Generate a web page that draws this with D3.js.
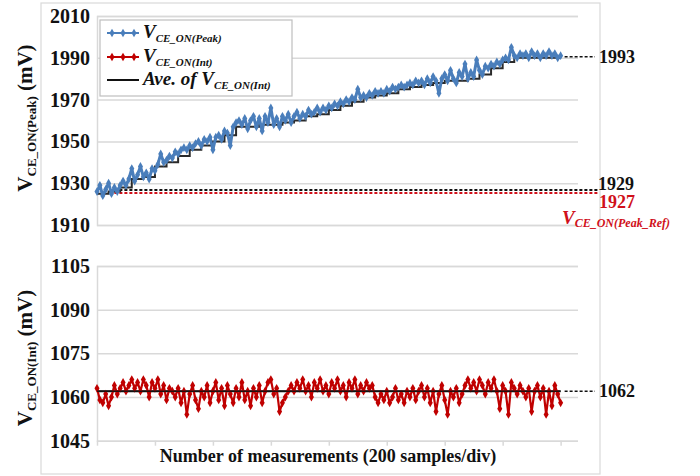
<!DOCTYPE html>
<html>
<head>
<meta charset="utf-8">
<script src="https://cdn.jsdelivr.net/npm/d3@7"></script>
<style>
  body { margin: 0; background: #fff; }
  svg text { font-family: "Liberation Serif", "Times New Roman", "DejaVu Serif", serif; font-weight: bold; }
</style>
</head>
<body>
<div id="chart"></div>
<script>
const WIDTH = 700;
const HEIGHT = 476;
const SERIF = "'Liberation Serif', 'Times New Roman', 'DejaVu Serif', serif";

// one value every SAMPLE_STEP measurements
const SAMPLE_STEP = 10;
const FLOOR_STEP = 40;
const X_MAX = 1660;

const xTicks = [0, 200, 400, 600, 800, 1000, 1200, 1400, 1600];
const topTicks = [1910, 1930, 1950, 1970, 1990, 2010];
const bottomTicks = [1045, 1060, 1075, 1090, 1105];

// V_CE_ON(Peak) in mV
const peakValues = [
  1926, 1929, 1924, 1927, 1930, 1925, 1928, 1926, 1929, 1931,
  1929, 1932, 1937, 1931, 1934, 1938, 1933, 1935, 1932, 1937,
  1936, 1939, 1944, 1940, 1941, 1943, 1942, 1945, 1944, 1946,
  1947, 1946, 1948, 1947, 1949, 1950, 1948, 1951, 1950, 1952,
  1946, 1952, 1953, 1951, 1955, 1954, 1948, 1957, 1959, 1960,
  1958, 1961, 1956, 1960, 1962, 1957, 1961, 1955, 1962, 1959,
  1966, 1958, 1961, 1957, 1962, 1960, 1963, 1959, 1962, 1964,
  1961, 1963, 1962, 1965, 1963, 1964, 1966, 1964, 1966, 1965,
  1967, 1966, 1968, 1967, 1969, 1968, 1970, 1969, 1971, 1970,
  1975, 1971, 1972, 1971, 1973, 1972, 1974, 1973, 1974, 1973,
  1975, 1974, 1976, 1975, 1976, 1977, 1976, 1977, 1978, 1977,
  1979, 1978, 1979, 1977, 1980, 1978, 1981, 1979, 1973, 1980,
  1982, 1979, 1984, 1980, 1978, 1983, 1981, 1987, 1980, 1983,
  1981, 1989, 1984, 1982, 1986, 1985, 1987, 1986, 1988, 1987,
  1989, 1990, 1989, 1995, 1991, 1990, 1992, 1991, 1992, 1990,
  1993, 1991, 1992, 1990, 1992, 1991, 1993, 1991, 1992, 1990,
  1991
];

// lower running level under the peak trace, one value every FLOOR_STEP
const peakFloor = [
  1925, 1926, 1928, 1932, 1933, 1938, 1940, 1943, 1946, 1948,
  1950, 1953, 1957, 1957, 1958, 1958, 1959, 1960, 1962, 1963,
  1965, 1967, 1969, 1971, 1972, 1973, 1975, 1976, 1977, 1978,
  1979, 1979, 1980, 1982, 1985, 1988, 1990, 1990, 1990, 1990,
  1990
];

// V_CE_ON(Int) in mV
const intValues = [
  1063, 1059, 1058, 1061, 1057, 1060, 1064, 1061, 1063, 1065,
  1062, 1064, 1066, 1063, 1065, 1062, 1066, 1064, 1060, 1065,
  1063, 1066, 1061, 1064, 1059, 1063, 1062, 1060, 1063, 1058,
  1062, 1054, 1061, 1064, 1059, 1056, 1062, 1060, 1064, 1058,
  1062, 1065, 1059, 1063, 1057, 1064, 1061, 1058, 1063, 1060,
  1065, 1059, 1062, 1057, 1063, 1060, 1064, 1058, 1062, 1065,
  1066, 1061, 1063, 1055, 1058, 1060, 1062, 1064, 1062, 1065,
  1063, 1066, 1062, 1064, 1060, 1065, 1063, 1066, 1062, 1064,
  1061, 1065, 1063, 1066, 1062, 1064, 1060, 1065, 1063, 1066,
  1061, 1064, 1062, 1065, 1063, 1064, 1060, 1058, 1061, 1059,
  1062, 1058, 1060, 1063, 1059, 1061, 1058, 1062, 1060, 1063,
  1059, 1062, 1064, 1060, 1063, 1058, 1062, 1055, 1061, 1064,
  1059, 1054, 1062, 1060, 1063, 1058, 1061, 1064, 1066, 1063,
  1065, 1062, 1066, 1064, 1061, 1065, 1063, 1066, 1062, 1056,
  1064, 1062, 1054, 1065, 1063, 1061, 1064, 1062, 1060, 1063,
  1055, 1062, 1064, 1060, 1063, 1054, 1062, 1057, 1064, 1061,
  1058
];

const intAverage = 1062;

// annotations: level where the dotted line sits, and the text printed
const peakEnd = { at: 1990.5, label: "1993" };
const intEnd = { at: 1062, label: "1062" };
const refLevels = [
  { at: 1926.7, label: "1929", color: "#111" },
  { at: 1925.3, label: "1927", color: "#d0101a" }
];

const BLUE = "#4a7ebb";
const RED = "#c00000";
const GRID = "#d9d9d9";

const svg = d3.select("#chart").append("svg")
  .attr("width", WIDTH)
  .attr("height", HEIGHT)
  .style("font-family", SERIF);

// outer frame
svg.append("rect")
  .attr("x", 41).attr("y", 3)
  .attr("width", 559).attr("height", 471)
  .attr("fill", "none")
  .attr("stroke", "#d9d9d9")
  .attr("stroke-width", 1.2);

const x = d3.scaleLinear().domain([0, X_MAX]).range([97, 578]);
const yTop = d3.scaleLinear().domain([1910, 2010]).range([225, 16]);
const yBot = d3.scaleLinear().domain([1045, 1105]).range([440.7, 266]);

function drawGrid(scale, ticks) {
  const g = svg.append("g")
    .attr("transform", `translate(${x(0)},0)`)
    .call(d3.axisLeft(scale)
      .tickValues(ticks)
      .tickSize(-(x(X_MAX) - x(0)))
      .tickPadding(7)
      .tickFormat(d3.format("d")));
  g.attr("font-family", null).attr("font-size", null);
  g.select(".domain")
    .attr("stroke", GRID)
    .attr("stroke-width", 1.5);
  g.selectAll(".tick line")
    .attr("stroke", GRID)
    .attr("stroke-width", 1.5);
  g.selectAll(".tick text")
    .attr("fill", "#111")
    .style("font-size", "20px")
    .style("font-family", SERIF)
    .style("font-weight", "bold");
  return g;
}

drawGrid(yTop, topTicks);
drawGrid(yBot, bottomTicks);

// bottom axis tick marks
const xAxis = svg.append("g")
  .attr("transform", `translate(0,${yBot(1045)})`)
  .call(d3.axisBottom(x).tickValues(xTicks).tickSize(5).tickFormat(""));
xAxis.select(".domain").remove();
xAxis.selectAll(".tick line").attr("stroke", GRID).attr("stroke-width", 1.5);

// reference dotted lines in the top panel
refLevels.forEach(r => {
  svg.append("line")
    .attr("x1", x(60)).attr("x2", 598)
    .attr("y1", yTop(r.at)).attr("y2", yTop(r.at))
    .attr("stroke", r.color)
    .attr("stroke-width", 2)
    .attr("stroke-dasharray", "3,2");
});

// floor step line under the peak trace
const floorLine = d3.line()
  .x((d, i) => x(i * FLOOR_STEP))
  .y(d => yTop(d))
  .curve(d3.curveStepAfter);
svg.append("path")
  .datum(peakFloor)
  .attr("d", floorLine)
  .attr("fill", "none")
  .attr("stroke", "#2a2a2a")
  .attr("stroke-width", 2);

const diamond = d3.symbol().type(d3.symbolDiamond).size(22);

function drawSeries(values, scale, color, width) {
  const line = d3.line()
    .x((d, i) => x(i * SAMPLE_STEP))
    .y(d => scale(d));
  svg.append("path")
    .datum(values)
    .attr("d", line)
    .attr("fill", "none")
    .attr("stroke", color)
    .attr("stroke-width", width)
    .attr("stroke-linejoin", "round");
  svg.append("g")
    .selectAll("path")
    .data(values)
    .enter()
    .append("path")
    .attr("d", diamond)
    .attr("transform", (d, i) => `translate(${x(i * SAMPLE_STEP)},${scale(d)})`)
    .attr("fill", color);
}

drawSeries(peakValues, yTop, BLUE, 3);

// average of V_CE_ON(Int)
svg.append("line")
  .attr("x1", x(0)).attr("x2", x((intValues.length - 1) * SAMPLE_STEP))
  .attr("y1", yBot(intAverage)).attr("y2", yBot(intAverage))
  .attr("stroke", "#111")
  .attr("stroke-width", 2);

drawSeries(intValues, yBot, RED, 2.2);

// average line drawn again on top so it stays visible through the trace
svg.append("line")
  .attr("x1", x(0)).attr("x2", x((intValues.length - 1) * SAMPLE_STEP))
  .attr("y1", yBot(intAverage)).attr("y2", yBot(intAverage))
  .attr("stroke", "#111")
  .attr("stroke-width", 1.5)
  .attr("opacity", 0.85);

// end-of-trace dotted leaders and labels
const lastX = x((peakValues.length - 1) * SAMPLE_STEP);
[[peakEnd, yTop], [intEnd, yBot]].forEach(([a, scale]) => {
  svg.append("line")
    .attr("x1", lastX + 4).attr("x2", 595)
    .attr("y1", scale(a.at)).attr("y2", scale(a.at))
    .attr("stroke", "#111")
    .attr("stroke-width", 1.6)
    .attr("stroke-dasharray", "3,2");
  svg.append("text")
    .attr("x", 599).attr("y", scale(a.at) + 6)
    .attr("fill", "#111")
    .style("font-size", "18px")
    .text(a.label);
});

svg.append("text")
  .attr("x", 598).attr("y", 190)
  .attr("fill", "#111")
  .style("font-size", "18px")
  .text(refLevels[0].label);
svg.append("text")
  .attr("x", 599).attr("y", 208)
  .attr("fill", refLevels[1].color)
  .style("font-size", "18px")
  .text(refLevels[1].label);

const refName = svg.append("text")
  .attr("x", 562).attr("y", 224)
  .attr("fill", refLevels[1].color)
  .style("font-style", "italic")
  .style("font-size", "19px");
refName.append("tspan").text("V");
refName.append("tspan")
  .attr("dy", 3)
  .style("font-size", "12px")
  .text("CE_ON(Peak_Ref)");

// y titles
function yTitle(cx, cy, sub) {
  const t = svg.append("text")
    .attr("transform", `translate(${cx},${cy}) rotate(-90)`)
    .attr("text-anchor", "middle")
    .attr("fill", "#111")
    .style("font-size", "21px");
  t.append("tspan").text("V");
  t.append("tspan").attr("dy", 4).style("font-size", "13px").text(sub);
  t.append("tspan").attr("dy", -4).text(" (mV)");
}
yTitle(32, 118, "CE_ON(Peak)");
yTitle(32, 358, "CE_ON(Int)");

// x title
svg.append("text")
  .attr("x", 328).attr("y", 462)
  .attr("text-anchor", "middle")
  .attr("fill", "#111")
  .style("font-size", "18px")
  .text("Number of measurements (200 samples/div)");

// legend
const legend = svg.append("g");
legend.append("rect")
  .attr("x", 100).attr("y", 20)
  .attr("width", 192).attr("height", 76)
  .attr("fill", "#fff")
  .attr("stroke", "#bfbfbf")
  .attr("stroke-width", 1.2);

const legendItems = [
  { color: BLUE, markers: true, pre: "", sub: "CE_ON(Peak)", y: 33 },
  { color: RED, markers: true, pre: "", sub: "CE_ON(Int)", y: 57 },
  { color: "#111", markers: false, pre: "Ave. of ", sub: "CE_ON(Int)", y: 80 }
];
legendItems.forEach(item => {
  legend.append("line")
    .attr("x1", 107).attr("x2", 139)
    .attr("y1", item.y).attr("y2", item.y)
    .attr("stroke", item.color)
    .attr("stroke-width", 2);
  if (item.markers) {
    [112, 123, 134].forEach(mx => {
      legend.append("path")
        .attr("d", diamond)
        .attr("transform", `translate(${mx},${item.y})`)
        .attr("fill", item.color);
    });
  }
  const t = legend.append("text")
    .attr("x", 143).attr("y", item.y + 5)
    .attr("fill", "#111")
    .style("font-style", "italic")
    .style("font-size", "19px");
  t.append("tspan").text(item.pre + "V");
  t.append("tspan").attr("dy", 4).style("font-size", "11px").text(item.sub);
});
</script>
</body>
</html>
